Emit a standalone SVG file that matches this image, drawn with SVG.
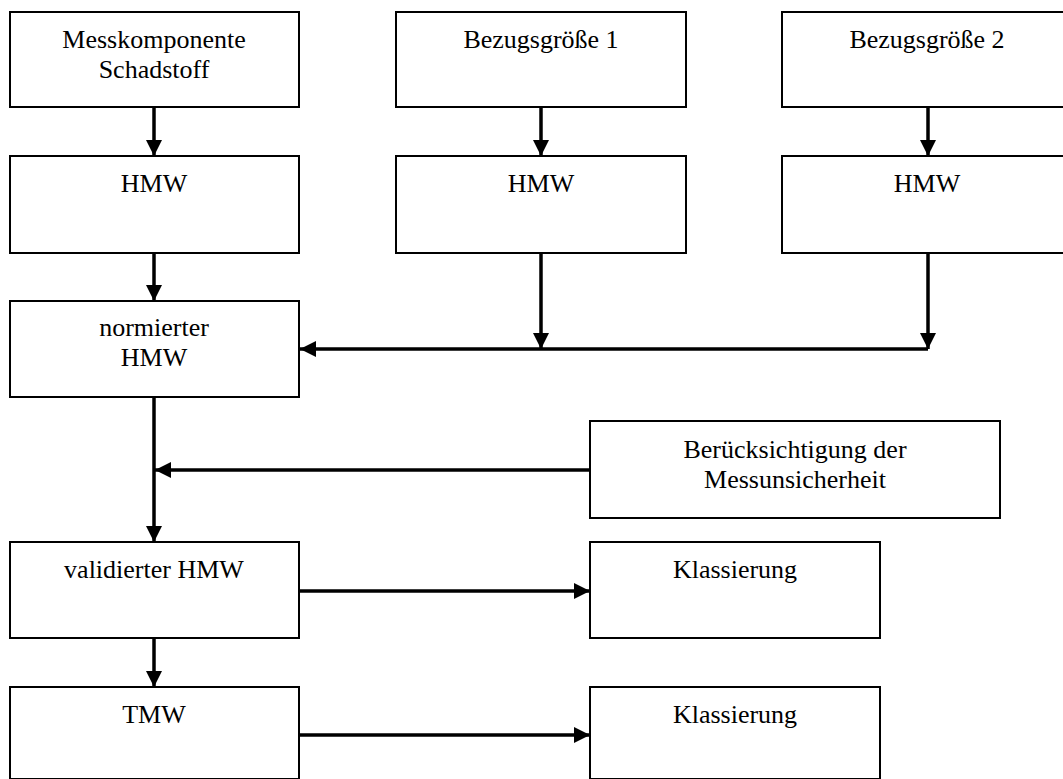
<svg xmlns="http://www.w3.org/2000/svg" width="1063" height="779" viewBox="0 0 1063 779">
  <style>
    .box { fill: #ffffff; stroke: #000000; stroke-width: 2; }
    .lbl { font-family: "Liberation Serif", "Times New Roman", serif; font-size: 26px; fill: #000000; text-anchor: middle; }
    .wire { fill: none; stroke: #000000; stroke-width: 3.5; }
  </style>
  <defs>
    <marker id="arrow" viewBox="0 0 16 16" refX="16" refY="8" markerWidth="16" markerHeight="16" markerUnits="userSpaceOnUse" orient="auto">
      <path d="M0,0 L16,8 L0,16 Z" fill="#000000"/>
    </marker>
  </defs>

  <rect width="1063" height="779" fill="#ffffff"/>

  <!-- connectors -->
  <g id="connectors">
    <line class="wire" x1="154" y1="107" x2="154" y2="156" marker-end="url(#arrow)"/>
    <line class="wire" x1="541" y1="107" x2="541" y2="156" marker-end="url(#arrow)"/>
    <line class="wire" x1="928" y1="107" x2="928" y2="156" marker-end="url(#arrow)"/>
    <line class="wire" x1="154" y1="253" x2="154" y2="301" marker-end="url(#arrow)"/>
    <line class="wire" x1="541" y1="253" x2="541" y2="349" marker-end="url(#arrow)"/>
    <line class="wire" x1="928" y1="253" x2="928" y2="349" marker-end="url(#arrow)"/>
    <line class="wire" x1="928" y1="349" x2="300" y2="349" marker-end="url(#arrow)"/>
    <line class="wire" x1="154" y1="397" x2="154" y2="542" marker-end="url(#arrow)"/>
    <line class="wire" x1="590" y1="470" x2="155" y2="470" marker-end="url(#arrow)"/>
    <line class="wire" x1="299" y1="591" x2="590" y2="591" marker-end="url(#arrow)"/>
    <line class="wire" x1="154" y1="638" x2="154" y2="687" marker-end="url(#arrow)"/>
    <line class="wire" x1="299" y1="735" x2="590" y2="735" marker-end="url(#arrow)"/>
  </g>

  <g id="messkomponente">
    <rect class="box" x="10" y="12" width="289" height="95"/>
    <text class="lbl" x="154" y="48">Messkomponente</text>
    <text class="lbl" x="154" y="78">Schadstoff</text>
  </g>
  <g id="bezug1">
    <rect class="box" x="396" y="12" width="290" height="95"/>
    <text class="lbl" x="541" y="48">Bezugsgröße 1</text>
  </g>
  <g id="bezug2">
    <rect class="box" x="782" y="12" width="292" height="95"/>
    <text class="lbl" x="927" y="48">Bezugsgröße 2</text>
  </g>
  <g id="hmw-a">
    <rect class="box" x="10" y="156" width="289" height="97"/>
    <text class="lbl" x="154" y="192">HMW</text>
  </g>
  <g id="hmw-b">
    <rect class="box" x="396" y="156" width="290" height="97"/>
    <text class="lbl" x="541" y="192">HMW</text>
  </g>
  <g id="hmw-c">
    <rect class="box" x="782" y="156" width="292" height="97"/>
    <text class="lbl" x="927" y="192">HMW</text>
  </g>
  <g id="normiert">
    <rect class="box" x="10" y="301" width="289" height="96"/>
    <text class="lbl" x="154" y="336">normierter</text>
    <text class="lbl" x="154" y="366">HMW</text>
  </g>
  <g id="messunsicherheit">
    <rect class="box" x="590" y="421" width="410" height="97"/>
    <text class="lbl" x="795" y="458">Berücksichtigung der</text>
    <text class="lbl" x="795" y="488">Messunsicherheit</text>
  </g>
  <g id="validiert">
    <rect class="box" x="10" y="542" width="289" height="96"/>
    <text class="lbl" x="154" y="578">validierter HMW</text>
  </g>
  <g id="klassierung-hmw">
    <rect class="box" x="590" y="542" width="290" height="96"/>
    <text class="lbl" x="735" y="578">Klassierung</text>
  </g>
  <g id="tmw">
    <rect class="box" x="10" y="687" width="289" height="92"/>
    <text class="lbl" x="154" y="723">TMW</text>
  </g>
  <g id="klassierung-tmw">
    <rect class="box" x="590" y="687" width="290" height="92"/>
    <text class="lbl" x="735" y="723">Klassierung</text>
  </g>
</svg>
